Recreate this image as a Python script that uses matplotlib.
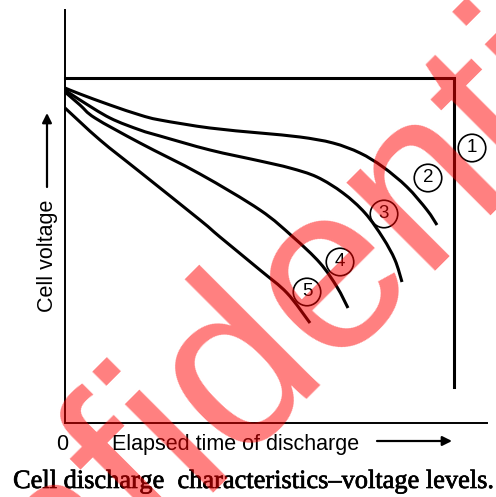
import numpy as np
import matplotlib
matplotlib.use('Agg')
import matplotlib.pyplot as plt
from matplotlib.path import Path
from matplotlib.patches import PathPatch
import matplotlib.patheffects as pe

W, H = 496, 497

# curve 1: ideal flat discharge (horizontal, then sudden drop)
time_1 = [0, 389, 389]
volt_1 = [345, 345, 36]

# curves 2-5: real discharge curves (arbitrary units, time vs voltage)
time_2 = [0, 15, 45, 75, 95, 145, 195, 235, 268, 295, 318, 342, 362, 372]
volt_2 = [335, 329, 318, 308, 303, 295, 290, 286, 280, 270, 256, 236, 213, 198]

time_3 = [0, 15, 45, 75, 95, 145, 195, 225, 252, 278, 300, 318, 330, 337]
volt_3 = [333, 323, 305, 293, 287, 273, 262, 255, 246, 230, 210, 185, 163, 141]

time_4 = [0, 15, 30, 75, 135, 195, 228, 255, 272, 283]
volt_4 = [331, 318, 305, 280, 249, 213, 186, 160, 136, 115]

time_5 = [0, 35, 75, 135, 155, 195, 222, 245]
volt_5 = [315, 283, 251, 203, 186, 153, 130, 100]

labels = ['1', '2', '3', '4', '5']
label_t = [407, 363, 319, 275, 242]
label_v = [275, 245, 209, 161, 131]

sans = 'Liberation Sans'
serif = 'Liberation Serif'


def smooth_path(t, v):
    # catmull-rom through the points, drawn as bezier segments
    pts = np.column_stack([t, v]).astype(float)
    verts = [pts[0]]
    codes = [Path.MOVETO]
    n = len(pts)
    for i in range(n - 1):
        p0 = pts[i - 1] if i > 0 else pts[i]
        p1, p2 = pts[i], pts[i + 1]
        p3 = pts[i + 2] if i + 2 < n else pts[i + 1]
        verts += [p1 + (p2 - p0) / 6, p2 - (p3 - p1) / 6, p2]
        codes += [Path.CURVE4] * 3
    return Path(verts, codes)


fig = plt.figure(figsize=(W / 100, H / 100), dpi=100)
ax = fig.add_axes([65 / W, 1 - 423 / H, 422 / W, 413 / H])
ax.set_xlim(0, 422)
ax.set_ylim(0, 413)

ax.plot(time_1, volt_1, color='black', lw=2.2, solid_joinstyle='miter', clip_on=False)
for t, v in [(time_2, volt_2), (time_3, volt_3), (time_4, volt_4), (time_5, volt_5)]:
    ax.add_patch(PathPatch(smooth_path(t, v), fill=False, ec='black', lw=2.2,
                           capstyle='butt', clip_on=False))

for lab, x, y in zip(labels, label_t, label_v):
    ax.text(x, y, lab, ha='center', va='center', fontsize=13.5, family=sans,
            bbox=dict(boxstyle='circle,pad=0.28', fc='none', ec='black', lw=1.2))

for s in ['top', 'right']:
    ax.spines[s].set_visible(False)
for s in ['left', 'bottom']:
    ax.spines[s].set_linewidth(1.4)
ax.set_xticks([])
ax.set_yticks([])

# axis texts
fig.text(62 / W, 1 - 450 / H, '0', ha='center', va='baseline', fontsize=15.5, family=sans)
fig.text(112 / W, 1 - 450 / H, 'Elapsed time of discharge', ha='left', va='baseline',
         fontsize=15.5, family=sans)
fig.text(47 / W, 1 - 256 / H, 'Cell voltage', ha='center', va='center', rotation=90,
         fontsize=15.5, family=sans)
fig.text(254 / W, 1 - 488 / H, 'Cell discharge  characteristics\u2013voltage levels.',
         ha='center', va='baseline', fontsize=19, family=serif,
         path_effects=[pe.withStroke(linewidth=0.5, foreground='black')])

arrow = dict(arrowstyle='-|>', color='black', lw=1.6, mutation_scale=14, shrinkA=0, shrinkB=0)
fig.add_artist(plt.Annotation('', xy=(452, H - 441), xytext=(377, H - 441),
                              xycoords='figure pixels', textcoords='figure pixels', arrowprops=arrow))
fig.add_artist(plt.Annotation('', xy=(47, H - 113), xytext=(47, H - 187),
                              xycoords='figure pixels', textcoords='figure pixels', arrowprops=arrow))

# watermark
fig.text(287 / W, 1 - 407 / H, 'Confidential', rotation=45, rotation_mode='anchor',
         ha='center', va='baseline', fontsize=169, color='red', alpha=0.5,
         family=sans, zorder=10)

fig.savefig('out.png', dpi=100)
